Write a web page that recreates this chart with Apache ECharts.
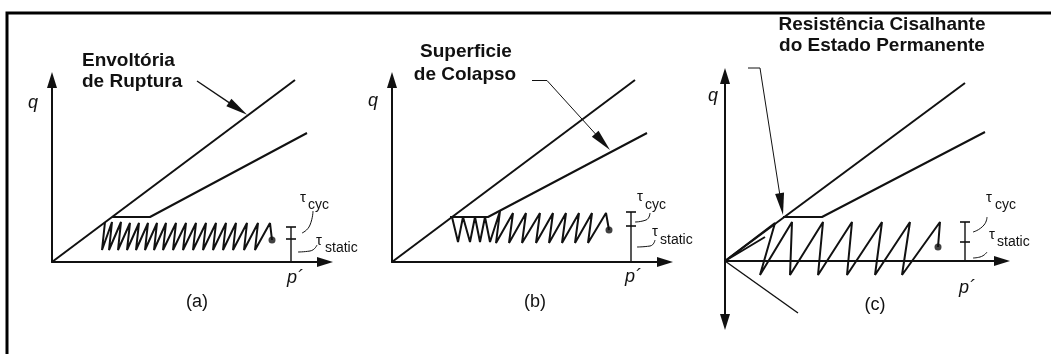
<!DOCTYPE html>
<html>
<head>
<meta charset="utf-8">
<script src="https://cdn.jsdelivr.net/npm/echarts@6/dist/echarts.min.js"></script>
<style>
  html, body { margin: 0; padding: 0; background: #fff; }
  #chart { width: 1051px; height: 354px; }
</style>
</head>
<body>
<div id="chart"></div>
<script>
// Stress paths in p'-q space for three cyclic loading cases.
// Units on each panel: p' to the right, q upward, both from the panel origin.

// ---------- panel (a) ----------
const failA_p = [0, 243];
const failA_q = [0, 182];
const collA_p = [60, 98, 255];
const collA_q = [45, 45, 129];
const startA = [220, 22];
const peaksA_p = [218, 206, 195, 184, 174, 164, 154, 144, 134, 124, 114, 105, 96, 87, 78, 69, 60, 53];
const peaksA_q = [39, 39, 39, 39, 39, 39, 39, 39, 39, 39, 39, 39, 39, 39, 39, 40, 40, 40];
const troughsA_p = [203, 192, 181, 171, 161, 151, 141, 131, 121, 111, 102, 93, 84, 75, 66, 57, 50];
const troughsA_q = [12, 12, 12, 12, 12, 12, 12, 12, 12, 12, 12, 12, 12, 12, 12, 12, 12];
const tauA = { p: 239, top: 35, mid: 23 };
const leaderA = { from: [145, 181], to: [186, 153.3] };
const cycLeadA = { p: [261, 258, 250], q: [51, 37, 29] };
const statLeadA = { p: [265, 258, 246], q: [17, 11, 10] };

// ---------- panel (b) ----------
const failB_p = [0, 243];
const failB_q = [0, 182];
const collB_p = [58, 96, 255];
const collB_q = [45, 45, 129];
const startB = [217, 32];
const peaksB_p = [214, 200, 187, 174, 161, 148, 134, 121, 108];
const peaksB_q = [49, 49, 49, 49, 49, 49, 49, 49, 51];
const troughsB_p = [196, 183, 170, 157, 144, 130, 117, 104];
const troughsB_q = [19, 19, 19, 19, 19, 19, 19, 19];
const tailB_p = [98, 93, 88, 83, 78, 71, 66, 60];
const tailB_q = [20, 45, 20, 45, 20, 45, 20, 45];
const tauB = { p: 239, top: 50, mid: 36 };
const leaderB_p = [140, 155];
const leaderB_q = [181.5, 181.5];
const leaderB = { from: [155, 181.5], to: [210.6, 120.2] };
const cycLeadB = { p: [258, 254, 243], q: [49, 42, 40] };
const statLeadB = { p: [263, 258, 245], q: [22, 16, 15] };

// ---------- panel (c) ----------
const failC_p = [0, 240];
const failC_q = [0, 178];
const collC_p = [58, 97, 260];
const collC_q = [44, 44, 129];
const extC_p = [0, 73];
const extC_q = [0, -52];
const startC = [213, 14];
const peaksC_p = [215, 185, 157, 127, 98, 67];
const peaksC_q = [39, 39, 39, 39, 39, 39];
const troughsC_p = [177, 150, 122, 93, 65, 35];
const troughsC_q = [-14, -14, -14, -14, -14, -14];
const tailC_p = [50, 0, 40];
const tailC_q = [38, 0, 24];
const tauC = { p: 240, top: 39, mid: 19 };
const leaderC_p = [23, 35, 37];
const leaderC_q = [193, 193, 180];
const leaderC = { from: [37, 180], to: [56.3, 56.9] };
const cycLeadC = { p: [262, 259, 248], q: [44, 36, 29] };
const statLeadC = { p: [262, 255, 248], q: [9, 4, 3] };

const INK = '#111';

const pairs = (ps, qs) => ps.map((p, i) => [p, qs[i]]);

function zigzag(start, pP, pQ, tP, tQ, tailP, tailQ) {
  const pts = [start.slice()];
  pP.forEach((p, i) => {
    pts.push([p, pQ[i]]);
    if (i < tP.length) pts.push([tP[i], tQ[i]]);
  });
  (tailP || []).forEach((p, i) => pts.push([p, tailQ[i]]));
  return pts;
}

function path(k, pts, width, extra) {
  return Object.assign({
    type: 'line', xAxisIndex: k, yAxisIndex: k, data: pts,
    symbol: 'none', clip: false, silent: true, animation: false,
    lineStyle: { color: INK, width: width }
  }, extra || {});
}

function arrow(k, from, to, width) {
  return {
    type: 'line', xAxisIndex: k, yAxisIndex: k, data: [from],
    symbol: 'none', clip: false, silent: true, animation: false,
    lineStyle: { width: 0 },
    markLine: {
      silent: true, animation: false,
      symbol: ['none', 'triangle'], symbolSize: [9, 22],
      label: { show: false },
      lineStyle: { color: INK, width: width, type: 'solid' },
      data: [[{ coord: from }, { coord: to }]]
    }
  };
}

function tauMarks(k, t) {
  return [
    path(k, [[t.p, 0], [t.p, t.top]], 1.4),
    path(k, [[t.p - 5, t.top], [t.p + 5, t.top]], 1.6),
    path(k, [[t.p - 5, t.mid], [t.p + 5, t.mid]], 1.6)
  ];
}

function dot(k, pt) {
  return {
    type: 'scatter', xAxisIndex: k, yAxisIndex: k, data: [pt],
    symbol: 'circle', symbolSize: 7, silent: true, animation: false,
    itemStyle: { color: INK }
  };
}

const series = [
  // (a)
  path(0, pairs(failA_p, failA_q), 2),
  path(0, pairs(collA_p, collA_q), 2),
  path(0, zigzag(startA, peaksA_p, peaksA_q, troughsA_p, troughsA_q), 2),
  dot(0, startA),
  ...tauMarks(0, tauA),
  arrow(0, leaderA.from, leaderA.to, 1.4),
  path(0, pairs(cycLeadA.p, cycLeadA.q), 1, { smooth: 0.6 }),
  path(0, pairs(statLeadA.p, statLeadA.q), 1, { smooth: 0.6 }),
  // (b)
  path(1, pairs(failB_p, failB_q), 2),
  path(1, pairs(collB_p, collB_q), 2),
  path(1, zigzag(startB, peaksB_p, peaksB_q, troughsB_p, troughsB_q, tailB_p, tailB_q), 2),
  dot(1, startB),
  ...tauMarks(1, tauB),
  path(1, pairs(leaderB_p, leaderB_q), 1),
  arrow(1, leaderB.from, leaderB.to, 1),
  path(1, pairs(cycLeadB.p, cycLeadB.q), 1, { smooth: 0.6 }),
  path(1, pairs(statLeadB.p, statLeadB.q), 1, { smooth: 0.6 }),
  // (c)
  path(2, pairs(failC_p, failC_q), 2),
  path(2, pairs(collC_p, collC_q), 2),
  path(2, pairs(extC_p, extC_q), 1.4),
  path(2, zigzag(startC, peaksC_p, peaksC_q, troughsC_p, troughsC_q, tailC_p, tailC_q), 2),
  dot(2, startC),
  ...tauMarks(2, tauC),
  path(2, pairs(leaderC_p, leaderC_q), 1),
  arrow(2, leaderC.from, leaderC.to, 1),
  path(2, pairs(cycLeadC.p, cycLeadC.q), 1, { smooth: 0.6 }),
  path(2, pairs(statLeadC.p, statLeadC.q), 1, { smooth: 0.6 })
];

const grids = [
  { left: 52, top: 80, width: 273, height: 182 },
  { left: 392, top: 80, width: 273, height: 182 },
  { left: 725, top: 76, width: 277, height: 246 }
];
const xMax = [273, 273, 277];
const yMin = [0, 0, -61];
const yMax = [182, 182, 185];

const axisLine = (symbols) => ({
  show: true, onZero: true, symbol: symbols, symbolSize: [10, 16],
  lineStyle: { color: INK, width: 2 }
});

const xAxis = grids.map((g, k) => ({
  gridIndex: k, type: 'value', min: 0, max: xMax[k],
  axisLine: axisLine(['none', 'triangle']),
  axisTick: { show: false }, axisLabel: { show: false }, splitLine: { show: false }
}));
const yAxis = grids.map((g, k) => ({
  gridIndex: k, type: 'value', min: yMin[k], max: yMax[k],
  axisLine: axisLine(k === 2 ? ['triangle', 'triangle'] : ['none', 'triangle']),
  axisTick: { show: false }, axisLabel: { show: false }, splitLine: { show: false }
}));

const SANS = "'Liberation Sans', Arial, sans-serif";
function txt(x, y, s, font, align, extra) {
  return Object.assign({
    type: 'text', x: x, y: y, silent: true,
    style: { text: s, font: font, fill: INK, textAlign: align || 'left', textVerticalAlign: 'middle' }
  }, extra || {});
}
const BOLD = 'bold 19px ' + SANS;
const ITAL = 'italic 18px ' + SANS;
const TAU = '15px ' + SANS;
const SUB = '14px ' + SANS;
const CAP = '18px ' + SANS;

const graphic = [
  { type: 'rect', silent: true, shape: { x: 7, y: 13, width: 1200, height: 500 },
    style: { fill: 'none', stroke: '#000', lineWidth: 3 } },
  // (a)
  txt(82, 61, 'Envoltória', BOLD),
  txt(82, 82, 'de Ruptura', BOLD),
  txt(33, 103, 'q', ITAL, 'center'),
  txt(295, 278, 'p´', ITAL, 'center'),
  txt(197, 302, '(a)', CAP, 'center'),
  txt(300, 198, 'τ', TAU), txt(308, 205, 'cyc', SUB),
  txt(316, 241, 'τ', TAU), txt(325, 248, 'static', SUB),
  // (b)
  txt(466, 52, 'Superficie', BOLD, 'center'),
  txt(465, 75, 'de Colapso', BOLD, 'center'),
  txt(373, 101, 'q', ITAL, 'center'),
  txt(633, 277, 'p´', ITAL, 'center'),
  txt(535, 302, '(b)', CAP, 'center'),
  txt(637, 197, 'τ', TAU), txt(645, 205, 'cyc', SUB),
  txt(652, 232, 'τ', TAU), txt(660, 240, 'static', SUB),
  // (c)
  txt(882, 25, 'Resistência Cisalhante', BOLD, 'center'),
  txt(882, 46, 'do Estado Permanente', BOLD, 'center'),
  txt(713, 96, 'q', ITAL, 'center'),
  txt(967, 288, 'p´', ITAL, 'center'),
  txt(875, 305, '(c)', CAP, 'center'),
  txt(986, 198, 'τ', TAU), txt(995, 205, 'cyc', SUB),
  txt(989, 235, 'τ', TAU), txt(997, 242, 'static', SUB)
];

const chart = echarts.init(document.getElementById('chart'), null, { renderer: 'canvas' });
chart.setOption({
  animation: false,
  backgroundColor: '#ffffff',
  grid: grids.map(g => Object.assign({ containLabel: false }, g)),
  xAxis: xAxis,
  yAxis: yAxis,
  series: series,
  graphic: graphic
});
</script>
</body>
</html>
